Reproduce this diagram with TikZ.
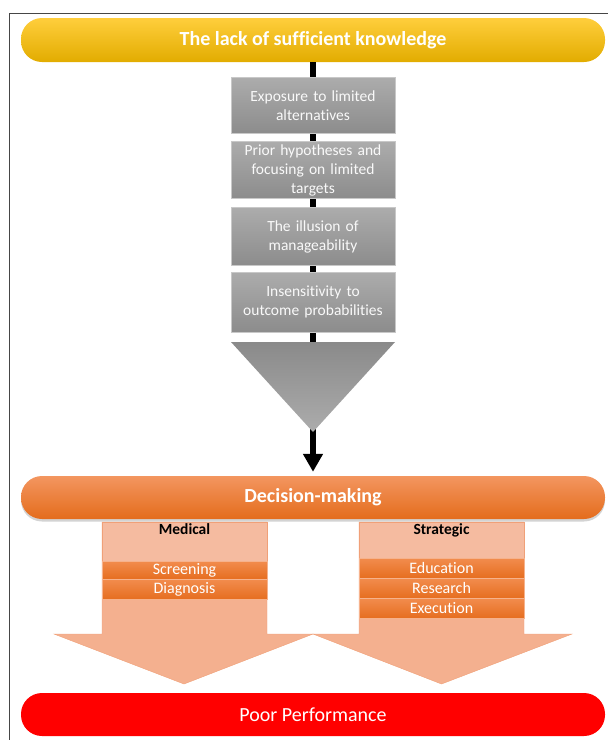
\documentclass[tikz,border=0pt]{standalone}
\usepackage{fontspec}
\setmainfont{Carlito}[Ligatures={NoCommon}]
\usetikzlibrary{arrows.meta,shadows}
\definecolor{ytop}{RGB}{255,206,60}
\definecolor{ybot}{RGB}{226,172,0}
\definecolor{gtop}{RGB}{172,172,172}
\definecolor{gbot}{RGB}{140,140,140}
\definecolor{gedge}{RGB}{200,200,200}
\definecolor{ttop}{RGB}{138,138,138}
\definecolor{tbot}{RGB}{172,172,172}
\definecolor{otop}{RGB}{243,150,96}
\definecolor{obot}{RGB}{228,108,28}
\definecolor{bandtop}{RGB}{242,140,78}
\definecolor{bandbot}{RGB}{230,110,32}
\definecolor{bandedge}{RGB}{246,178,140}
\definecolor{salmon}{RGB}{244,176,143}
\definecolor{salmonedge}{RGB}{240,160,120}
\definecolor{titlefill}{RGB}{245,187,160}
\definecolor{framec}{RGB}{70,70,70}
\begin{document}
\begin{tikzpicture}[x=1pt,y=-1pt,
  pill/.style={rounded corners=21pt, minimum width=584pt, minimum height=43pt, inner sep=0pt,
    text=white, font=\bfseries\fontsize{20}{22}\selectfont},
  graybox/.style={draw=gedge, line width=0.6pt, top color=gtop, bottom color=gbot,
    minimum width=164pt, inner sep=0pt, text width=160pt, align=center,
    text=white!95!gray, font=\fontsize{15.5}{19}\selectfont},
  band/.style={draw=bandedge, line width=0.5pt, top color=bandtop, bottom color=bandbot,
    minimum width=165pt, inner sep=0pt, text=white, font=\fontsize{16}{18}\selectfont},
  titlebox/.style={draw=salmonedge, line width=0.5pt, fill=titlefill, minimum width=165pt,
    minimum height=39pt, inner sep=0pt},
  ttext/.style={font=\bfseries\fontsize{15.5}{17}\selectfont, anchor=north, inner sep=0pt},
  bigarrow/.style={fill=salmon, draw=salmonedge, line width=0.4pt},
  flowline/.style={line width=6pt, draw=black, -{Triangle[width=19pt,length=18pt]}},
]
\useasboundingbox (0,0) rectangle (608,740);
\begin{scope}
  \clip (0,0) rectangle (608,740);
  \draw[framec, line width=0.8pt] (9,745) -- (9,13) -- (612,13);
\end{scope}

% pills
\node[pill, top color=ytop, bottom color=ybot, minimum height=44pt] (lack) at (313,40) {The lack of sufficient knowledge};
\node[pill, top color=otop, bottom color=obot, drop shadow={opacity=0.35, shadow xshift=0pt, shadow yshift=-2.5pt}] (dm) at (313,497.5) {Decision-making};

% central connector
\draw[flowline, shorten >=4pt] (lack.south) -- (dm.north);

% gray boxes
\node[graybox, minimum height=56pt] (b1) at (313,105.5) {Exposure to limited\\alternatives};
\node[graybox, minimum height=57pt] (b2) at (313,170) {Prior hypotheses and\\focusing on limited\\targets};
\node[graybox, minimum height=58pt] (b3) at (313,236.5) {The illusion of\\manageability};
\node[graybox, minimum height=60pt] (b4) at (313,302) {Insensitivity to\\outcome probabilities};

% funnel triangle
\shade[top color=ttop, bottom color=tbot] (231,342) -- (395,342) -- (313,432) -- cycle;

% big arrows
\draw[bigarrow] (102,522) -- (267,522) -- (267,634) -- (313,634) -- (184,684) -- (54,634) -- (102,634) -- cycle;
\draw[bigarrow] (359,522) -- (524,522) -- (524,634) -- (572,634) -- (441.5,684) -- (313,634) -- (359,634) -- cycle;

% title boxes
\node[titlebox, minimum height=39pt] (med) at (184.5,541.5) {};
\node[ttext] (medt) at (184.5,523) {Medical};
\node[titlebox, minimum height=36pt] (str) at (441.5,540) {};
\node[ttext] (strt) at (441.5,523) {Strategic};

% bands
\node[band, minimum height=18pt] (scr) at (184.5,570) {Screening};
\node[band, minimum height=20pt] (dia) at (184.5,589) {Diagnosis};
\node[band, minimum height=20pt] (edu) at (441.5,568) {Education};
\node[band, minimum height=20pt] (res) at (441.5,588) {Research};
\node[band, minimum height=20pt] (exe) at (441.5,608) {Execution};

% poor performance
\node[pill, fill=red, font=\fontsize{20}{22}\selectfont] (pp) at (313,714.5) {Poor Performance};
\end{tikzpicture}
\end{document}
